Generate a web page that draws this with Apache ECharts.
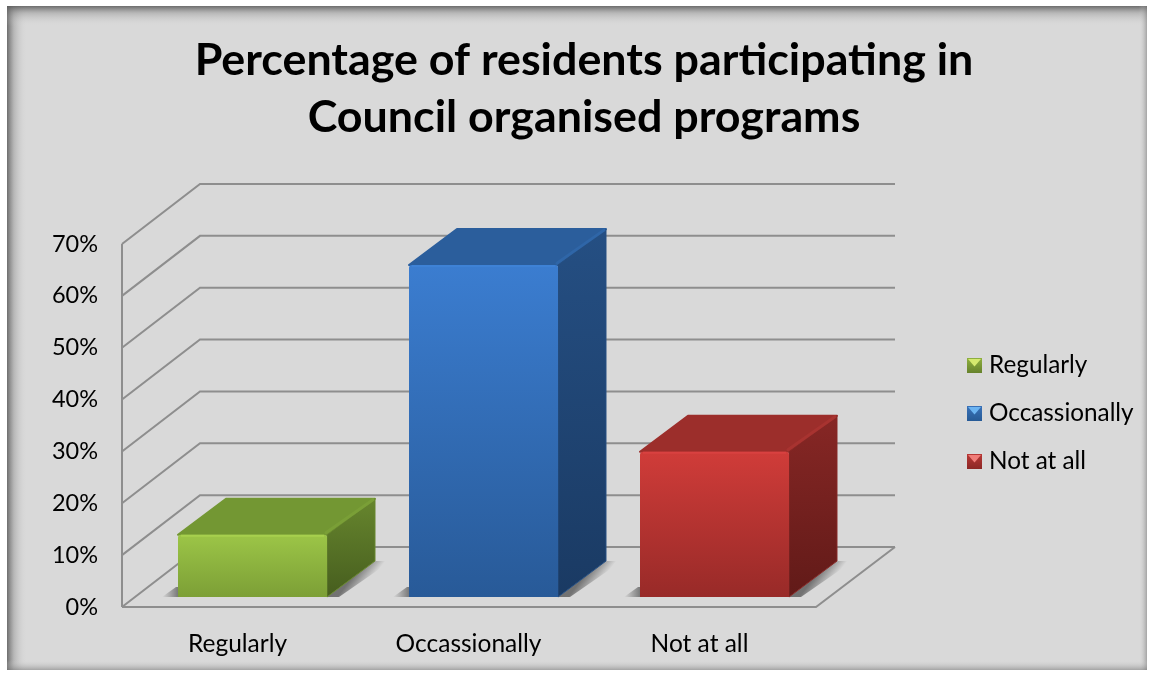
<!DOCTYPE html>
<html>
<head>
<meta charset="utf-8">
<style>html,body{margin:0;padding:0;background:#fff}#chart{width:1150px;height:674px}</style>
<script src="https://cdn.jsdelivr.net/npm/echarts@6/dist/echarts.min.js"></script>
</head>
<body>
<div id="chart"></div>
<script>
// Survey results: share of residents taking part in Council programs.
const categories = ['Regularly', 'Occassionally', 'Not at all'];
const percentages = [12, 64, 28];
const gridTicks = [0, 10, 20, 30, 40, 50, 60, 70];

// Colour ramps per category: front face, side face, top face, bevels.
const palettes = [
  { front: ['#9cc547', '#7c9f36'], side: ['#67862e', '#465d1e'], top: '#739733', edge: '#a7d04e', ridge: '#7a9f37', key: '#d5e96e', swatch: ['#8fb03f', '#66822c'] },
  { front: ['#3b7dd0', '#285a98'], side: ['#254f83', '#1a3a63'], top: '#2b5e9c', edge: '#3e82d6', ridge: '#2f66a8', key: '#6cb4f2', swatch: ['#3a72b8', '#265a96'] },
  { front: ['#d03c39', '#982a28'], side: ['#872725', '#611a18'], top: '#9c2e2b', edge: '#d94140', ridge: '#a83330', key: '#f07c78', swatch: ['#b83836', '#8c2725'] }
];

// Oblique projection of the chart's depth axis, in pixels.
const WALL_DX = 78, WALL_DY = -60;
const BAR_DX = 48, BAR_DY = -36;
const BAR_SHIFT_X = 15, BAR_SHIFT_Y = -10;
const FLOOR_OVERHANG = 2;
const GRID_LINE = '#8e8e8e';

const vGrad = (a, b) => new echarts.graphic.LinearGradient(0, 0, 0, 1, [
  { offset: 0, color: a }, { offset: 1, color: b }
]);
const fade = (x, y, x2, y2, alpha) => new echarts.graphic.LinearGradient(x, y, x2, y2, [
  { offset: 0, color: `rgba(70,70,70,${alpha})` }, { offset: 1, color: 'rgba(70,70,70,0)' }
], true);

// Floor, left wall and back wall lines, one element per tick value.
function renderWall(params, api) {
  const tick = api.value(0);
  const y = api.coord([0, tick])[1];
  const left = params.coordSys.x;
  const right = left + params.coordSys.width + FLOOR_OVERHANG;
  const style = { stroke: GRID_LINE, lineWidth: 2, fill: null };
  const children = [
    { type: 'polyline', shape: { points: [[left, y], [left + WALL_DX, y + WALL_DY], [right + WALL_DX, y + WALL_DY]] }, style }
  ];
  if (tick === 0) {
    children.push({ type: 'polyline', shape: { points: [[left, y], [right - 1, y], [right + WALL_DX, y + WALL_DY]] }, style });
  }
  if (tick === 70) {
    children.push({ type: 'line', shape: { x1: left, y1: y, x2: left, y2: api.coord([0, 0])[1] }, style });
  }
  return { type: 'group', children };
}

// One extruded block per category, with its cast shadow on the floor.
function makeBarRenderer(pal) {
  return function (params, api) {
    const catIndex = api.value(0);
    const top = api.coord([catIndex, api.value(1)]);
    const base = api.coord([catIndex, 0]);
    const band = api.size([1, 0])[0];
    const w = band * 0.645;
    const x0 = top[0] - w / 2 + BAR_SHIFT_X;
    const x1 = x0 + w;
    const yT = top[1] + BAR_SHIFT_Y;
    const yB = base[1] + BAR_SHIFT_Y;
    const d = 3;
    return {
      type: 'group',
      children: [
        // shadow falling to the right of the block
        { type: 'polygon',
          shape: { points: [[x1, yB], [x1 + BAR_DX, yB + BAR_DY], [x1 + BAR_DX + 16, yB + BAR_DY], [x1 + 12, yB]] },
          style: { fill: fade(x1 + BAR_DX / 2, yB + BAR_DY / 2, x1 + BAR_DX / 2 + 13, yB + BAR_DY / 2 + 10, 0.7) } },
        // and a short one at its front left corner
        { type: 'polygon',
          shape: { points: [[x0 - 16, yB], [x0 - 2, yB - 10], [x0 + 4, yB - 10], [x0 + 4, yB]] },
          style: { fill: fade(x0, yB, x0 - 16, yB, 0.65) } },
        { type: 'polygon',
          shape: { points: [[x0, yT], [x0 + BAR_DX, yT + BAR_DY], [x1 + BAR_DX, yT + BAR_DY], [x1, yT]] },
          style: { fill: pal.top, lineJoin: 'round', stroke: pal.top, lineWidth: 2 } },
        { type: 'polygon',
          shape: { points: [[x1, yT], [x1 + BAR_DX, yT + BAR_DY], [x1 + BAR_DX, yB + BAR_DY], [x1, yB]] },
          style: { fill: vGrad(pal.side[0], pal.side[1]), lineJoin: 'round', stroke: pal.side[0], lineWidth: 1 } },
        // bevel along the top-right ridge
        { type: 'line',
          shape: { x1: x1 - 1, y1: yT - 2, x2: x1 + BAR_DX - 2, y2: yT + BAR_DY + 1 },
          style: { stroke: pal.ridge, lineWidth: 3, lineCap: 'round' } },
        { type: 'rect',
          shape: { x: x0, y: yT, width: w, height: yB - yT, r: [d, d, 0, 0] },
          style: { fill: vGrad(pal.front[0], pal.front[1]) } },
        { type: 'line',
          shape: { x1: x0 + d, y1: yT + 1, x2: x1 - d, y2: yT + 1 },
          style: { stroke: pal.edge, lineWidth: 2 } }
      ]
    };
  };
}

const barSeries = categories.map((name, i) => ({
  type: 'custom',
  name,
  coordinateSystem: 'cartesian2d',
  renderItem: makeBarRenderer(palettes[i]),
  encode: { x: 0, y: 1 },
  itemStyle: { color: palettes[i].front[0] },
  clip: false,
  z: 3,
  data: [[i, percentages[i]]]
}));

const chart = echarts.init(document.getElementById('chart'), null, { renderer: 'canvas' });

// Panel with a soft dark inner edge along all four sides.
const PANEL = { x: 7, y: 6, w: 1140, h: 664 };
const EDGE = 20;
const edgeGrad = (x, y, x2, y2) => new echarts.graphic.LinearGradient(x, y, x2, y2, [
  { offset: 0, color: 'rgba(90,90,90,0.85)' }, { offset: 0.35, color: 'rgba(120,120,120,0.35)' }, { offset: 1, color: 'rgba(217,217,217,0)' }
]);
const softEdge = (x, y, x2, y2) => new echarts.graphic.LinearGradient(x, y, x2, y2, [
  { offset: 0, color: 'rgba(120,120,120,0.55)' }, { offset: 1, color: 'rgba(217,217,217,0)' }
]);

// Legend placement; the swatch bevels below are laid over its icons.
const LEGEND_LEFT = 967, LEGEND_TOP = 358, KEY_SIZE = 15, KEY_PITCH = 48;
const keyBevels = categories.map((name, i) => {
  const y = LEGEND_TOP + i * KEY_PITCH;
  return {
    type: 'polygon', z: 100,
    shape: { points: [[LEGEND_LEFT + 1, y + 1], [LEGEND_LEFT + KEY_SIZE - 1, y + 1], [LEGEND_LEFT + KEY_SIZE / 2, y + KEY_SIZE / 2 + 1]] },
    style: { fill: palettes[i].key }
  };
});

chart.setOption({
  animation: false,
  backgroundColor: '#ffffff',
  textStyle: { fontFamily: 'Lato' },
  graphic: { elements: [
    { type: 'rect', z: -10, shape: { x: PANEL.x, y: PANEL.y, width: PANEL.w, height: PANEL.h }, style: { fill: '#d9d9d9' } },
    { type: 'rect', z: -9, shape: { x: PANEL.x, y: PANEL.y, width: EDGE, height: PANEL.h }, style: { fill: edgeGrad(0, 0, 1, 0) } },
    { type: 'rect', z: -9, shape: { x: PANEL.x, y: PANEL.y, width: PANEL.w, height: EDGE }, style: { fill: edgeGrad(0, 0, 0, 1) } },
    { type: 'rect', z: -9, shape: { x: PANEL.x + PANEL.w - 8, y: PANEL.y, width: 8, height: PANEL.h }, style: { fill: softEdge(1, 0, 0, 0) } },
    { type: 'rect', z: -9, shape: { x: PANEL.x, y: PANEL.y + PANEL.h - 10, width: PANEL.w, height: 10 }, style: { fill: softEdge(0, 1, 0, 0) } },
    ...keyBevels
  ] },
  title: {
    text: 'Percentage of residents participating in\nCouncil organised programs',
    left: 579,
    top: 27,
    textAlign: 'center',
    textStyle: { fontFamily: 'Lato', fontWeight: 'bold', fontSize: 44.8, lineHeight: 57, color: '#000' }
  },
  legend: {
    orient: 'vertical',
    left: LEGEND_LEFT,
    top: LEGEND_TOP - 4.5,
    padding: 0,
    itemWidth: KEY_SIZE,
    itemHeight: KEY_SIZE,
    itemGap: 24,
    icon: 'rect',
    textStyle: { fontFamily: 'Lato', fontSize: 24.3, color: '#000', padding: [2, 0, 0, 2] },
    data: categories.map((name, i) => ({
      name,
      itemStyle: { color: vGrad(palettes[i].swatch[0], palettes[i].swatch[1]) }
    }))
  },
  grid: { left: 122, right: 335, top: 244, bottom: 67, containLabel: false },
  xAxis: {
    type: 'category',
    data: categories,
    axisLine: { show: false },
    axisTick: { show: false },
    axisLabel: { margin: 25, fontFamily: 'Lato', fontSize: 24.5, color: '#000' },
    splitLine: { show: false }
  },
  yAxis: {
    type: 'value',
    min: 0,
    max: 70,
    interval: 10,
    axisLine: { show: false },
    axisTick: { show: false },
    splitLine: { show: false },
    axisLabel: { margin: 24, padding: [10, 0, 0, 0], formatter: '{value}%', fontFamily: 'Lato', fontSize: 23.5, color: '#000' }
  },
  series: [
    {
      type: 'custom',
      name: 'walls',
      coordinateSystem: 'cartesian2d',
      renderItem: renderWall,
      encode: { y: 0 },
      clip: false,
      silent: true,
      z: 1,
      data: gridTicks.map(t => [t])
    },
    ...barSeries
  ]
});
</script>
</body>
</html>
